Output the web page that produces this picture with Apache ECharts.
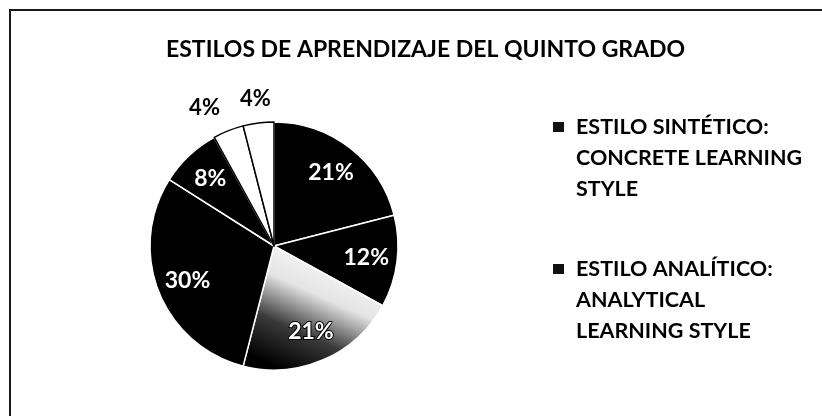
<!DOCTYPE html>
<html>
<head>
<meta charset="utf-8">
<script src="https://cdn.jsdelivr.net/npm/echarts@6/dist/echarts.min.js"></script>
<style>
  html, body { margin: 0; padding: 0; background: #fff; }
  .frame {
    position: absolute; left: 9px; top: 9px; width: 813px; height: 407px;
    border-top: 2px solid #1a1a1a; border-left: 2px solid #1a1a1a;
  }
  #main { position: absolute; left: 0; top: 0; width: 822px; height: 416px; }
</style>
</head>
<body>
<div class="frame"></div>
<div id="main"></div>
<script>
// slices go clockwise from 12 o'clock, like the original spreadsheet chart
const styleNames = [
  'ESTILO SINTÉTICO: CONCRETE LEARNING STYLE',
  'ESTILO ANALÍTICO: ANALYTICAL LEARNING STYLE',
  'ESTILO 3',
  'ESTILO 4',
  'ESTILO 5',
  'ESTILO 6',
  'ESTILO 7'
];
const sharePct = [21, 12, 21, 30, 8, 4, 4];
// only the first two entries are visible in the legend
const legendLines = [
  ['ESTILO SINTÉTICO:', 'CONCRETE LEARNING', 'STYLE'],
  ['ESTILO ANALÍTICO:', 'ANALYTICAL', 'LEARNING STYLE']
];
const titleText = 'ESTILOS DE APRENDIZAJE DEL QUINTO GRADO';

const FONT = 'Lato, "Open Sans", sans-serif';
const center = [274, 246];
const R = 124;

// size the bold text so it spans the same width as in the scan
function fitFont(text, width) {
  var ctx = document.createElement('canvas').getContext('2d');
  ctx.font = 'bold 100px ' + FONT;
  return Math.round(2 * 100 * width / ctx.measureText(text).width) / 2;
}
const titleSize = fitFont(titleText, 522);
const legendSize = fitFont('CONCRETE LEARNING', 227);

const shade = {
  type: 'linear', x: 0.7, y: 0, x2: 0.3, y2: 1,
  colorStops: [
    { offset: 0, color: '#ffffff' },
    { offset: 0.4, color: '#e4e4e4' },
    { offset: 0.7, color: '#3a3a3a' },
    { offset: 1, color: '#000000' }
  ]
};
const fills = ['#000', '#000', shade, '#000', '#000', '#fff', '#fff'];
const edges = ['#fff', '#fff', '#fff', '#fff', '#fff', '#000', '#000'];
const outsideLabel = [false, false, false, false, false, true, true];
const outsidePad = [0, 0, 0, 0, 0, [0, 30, 0, 0], 0];

var chart = echarts.init(document.getElementById('main'));

var option = {
  animation: false,
  title: {
    text: titleText,
    left: 161,
    top: 47 - titleSize * 0.6,
    textStyle: { fontFamily: FONT, fontSize: titleSize, fontWeight: 'bold', color: '#000' }
  },
  legend: {
    orient: 'vertical',
    left: 542,
    top: 111,
    itemWidth: 0,
    itemHeight: 0,
    itemGap: 58,
    icon: 'rect',
    selectedMode: false,
    data: styleNames.slice(0, legendLines.length),
    formatter: function (name) {
      var lines = legendLines[styleNames.indexOf(name)];
      return '{box|}{t|' + lines[0] + '}\n' +
        lines.slice(1).map(function (l) { return '{i|' + l + '}'; }).join('\n');
    },
    textStyle: {
      fontFamily: FONT, fontSize: legendSize, fontWeight: 'bold', color: '#000',
      rich: {
        box: { width: 11, height: 10, backgroundColor: '#111', lineHeight: 31 },
        t: { fontFamily: FONT, fontSize: legendSize, fontWeight: 'bold', color: '#000', lineHeight: 31, padding: [0, 0, 0, 12] },
        i: { fontFamily: FONT, fontSize: legendSize, fontWeight: 'bold', color: '#000', lineHeight: 31, padding: [0, 0, 0, 23] }
      }
    }
  },
  series: [
    {
      // the pie itself
      type: 'pie',
      center: center,
      radius: R,
      startAngle: 90,
      clockwise: true,
      silent: true,
      label: { show: false },
      labelLine: { show: false },
      data: sharePct.map(function (v, i) {
        return {
          name: styleNames[i],
          value: v,
          itemStyle: { color: fills[i], borderColor: edges[i], borderWidth: 1.5 }
        };
      })
    },
    {
      // invisible ring that holds the percentage labels inside the slices
      type: 'pie',
      center: center,
      radius: [56, R],
      startAngle: 90,
      silent: true,
      itemStyle: { color: 'rgba(0,0,0,0)', borderWidth: 0 },
      labelLine: { show: false },
      data: sharePct.map(function (v, i) {
        return {
          name: styleNames[i],
          value: v,
          label: {
            show: !outsideLabel[i],
            position: 'inside',
            formatter: '{c}%',
            fontFamily: FONT, fontSize: 23, fontWeight: 'bold',
            color: '#fff', textBorderColor: '#000', textBorderWidth: 2
          }
        };
      })
    },
    {
      // outer ring for the small slices, labelled above the pie
      type: 'pie',
      center: center,
      radius: [130, 160],
      startAngle: 90,
      silent: true,
      itemStyle: { color: 'rgba(0,0,0,0)', borderWidth: 0 },
      labelLine: { show: false },
      data: sharePct.map(function (v, i) {
        return {
          name: styleNames[i],
          value: v,
          label: {
            show: outsideLabel[i],
            position: 'inside',
            formatter: '{c}%',
            padding: outsidePad[i],
            fontFamily: FONT, fontSize: 22, fontWeight: 'bold', color: '#000'
          }
        };
      })
    }
  ]
};

option && chart.setOption(option);
</script>
</body>
</html>
